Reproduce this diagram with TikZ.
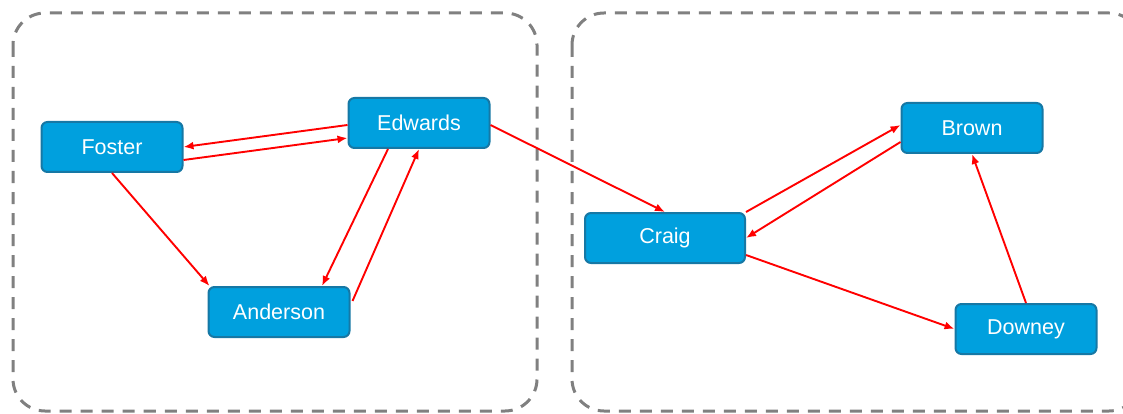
\documentclass[tikz,border=0pt]{standalone}
\usepackage{fontspec}
\setsansfont{Liberation Sans}
\usepackage{xcolor}
\usepackage{tikz}
\usetikzlibrary{arrows.meta}

\definecolor{boxblue}{RGB}{0,160,222}
\definecolor{boxline}{RGB}{22,120,165}
\definecolor{groupgray}{RGB}{128,128,128}

\begin{document}
\begin{tikzpicture}[x=1pt,y=-1pt,
  person/.style={draw=boxline, line width=2pt, fill=boxblue, rounded corners=6pt,
    minimum width=141pt, minimum height=50pt, text=white, font=\sffamily\fontsize{21.5}{24}\selectfont},
  edge/.style={red, line width=1.9pt, -{Latex[length=10pt,width=8pt]}},
  group/.style={groupgray, line width=3pt, dash pattern=on 12pt off 9pt, rounded corners=32pt}]
\useasboundingbox (0,0) rectangle (1123,414);
\clip (0,0) rectangle (1123,414);

\draw [group] (13,13) rectangle (537,411);
\draw [group] (572,13) rectangle (1141,411);

\node [person] (foster) at (112,147) {Foster};
\node [person] (edwards) at (419,123) {Edwards};
\node [person] (anderson) at (279,312) {Anderson};
\node [person, minimum width=160pt] (craig) at (665,238) {Craig};
\node [person] (brown) at (972,128) {Brown};
\node [person] (downey) at (1026,329) {Downey};

\draw [edge] ([yshift=-2pt]edwards.west) -- (foster.east);
\draw [edge] ([yshift=-13pt]foster.east) -- ([yshift=-15pt]edwards.west);
\draw [edge] (foster.south) -- ([xshift=2pt]anderson.north west);
\draw [edge] ([xshift=-31pt]edwards.south) -- ([xshift=43pt]anderson.north);
\draw [edge] ([xshift=2pt,yshift=11pt]anderson.east) -- (edwards.south);
\draw [edge] ([yshift=-2pt]edwards.east) -- (craig.north);
\draw [edge] (craig.north east) -- ([yshift=3pt]brown.west);
\draw [edge] ([yshift=-14pt]brown.west) -- (craig.east);
\draw [edge] ([yshift=-17pt]craig.east) -- (downey.west);
\draw [edge] (downey.north) -- (brown.south);

\end{tikzpicture}
\end{document}
